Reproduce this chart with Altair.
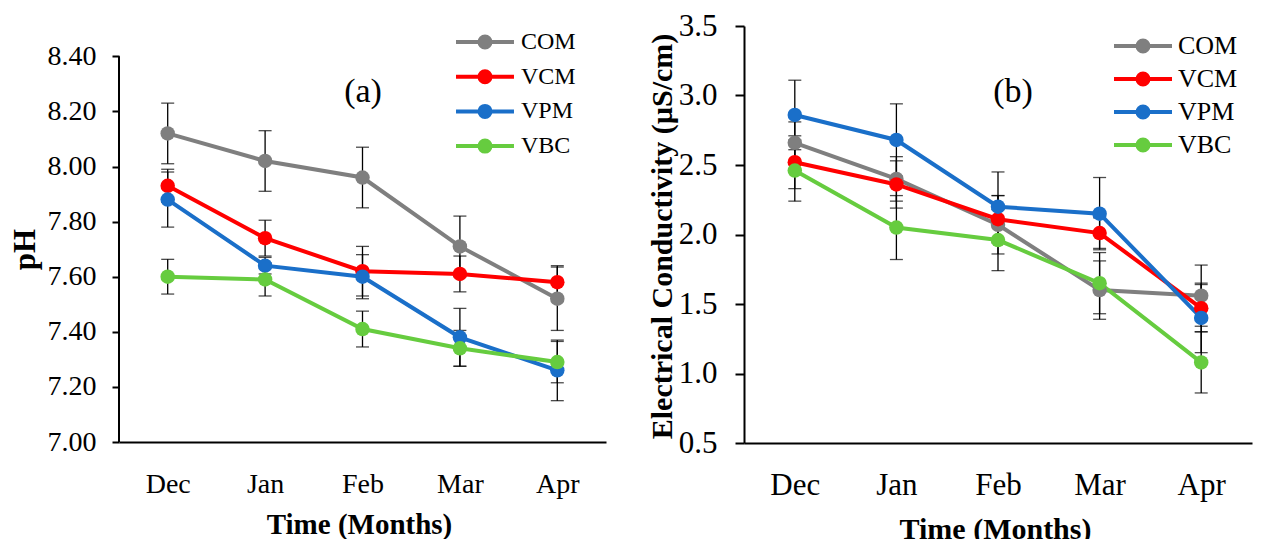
import altair as alt
import pandas as pd

months = ["Dec", "Jan", "Feb", "Mar", "Apr"]
series = ["COM", "VCM", "VPM", "VBC"]
colors = ["#7f7f7f", "#ff0000", "#1a6fc9", "#66cc3f"]

# panel (a) pH
ph_com = [8.12, 8.02, 7.96, 7.71, 7.52]
ph_vcm = [7.93, 7.74, 7.62, 7.61, 7.58]
ph_vpm = [7.88, 7.64, 7.60, 7.38, 7.26]
ph_vbc = [7.60, 7.59, 7.41, 7.34, 7.29]
ph_com_err = [0.11, 0.11, 0.11, 0.11, 0.115]
ph_vcm_err = [0.06, 0.065, 0.09, 0.065, 0.06]
ph_vpm_err = [0.10, 0.03, 0.08, 0.105, 0.11]
ph_vbc_err = [0.063, 0.06, 0.065, 0.065, 0.075]
ph_ticks = [7.00, 7.20, 7.40, 7.60, 7.80, 8.00, 8.20, 8.40]

# panel (b) electrical conductivity
ec_com = [2.66, 2.40, 2.07, 1.60, 1.56]
ec_vcm = [2.52, 2.36, 2.11, 2.01, 1.47]
ec_vpm = [2.86, 2.68, 2.20, 2.15, 1.40]
ec_vbc = [2.46, 2.05, 1.96, 1.65, 1.08]
ec_com_err = [0.15, 0.16, 0.21, 0.21, 0.22]
ec_vcm_err = [0.19, 0.17, 0.17, 0.11, 0.17]
ec_vpm_err = [0.25, 0.26, 0.25, 0.26, 0.25]
ec_vbc_err = [0.22, 0.23, 0.22, 0.22, 0.22]
ec_ticks = [0.5, 1.0, 1.5, 2.0, 2.5, 3.0, 3.5]

panel_tags = ["(a)", "(b)"]
x_title = "Time (Months)"
ph_title = "pH"
ec_title = "Electrical Conductivity (\u00b5S/cm)"

FONT = "Liberation Serif"

# legend symbol: a line with a filled circle in the middle
SYMBOL = ("M-2.07,0H2.07"
          "M-0.393,0A0.393,0.393,0,1,0,0.393,0A0.393,0.393,0,1,0,-0.393,0Z"
          "M-0.107,0A0.107,0.107,0,1,0,0.107,0A0.107,0.107,0,1,0,-0.107,0Z")


def frame(vals, errs):
    rows = []
    for s, v, e in zip(series, vals, errs):
        for m, vv, ee in zip(months, v, e):
            rows.append({"month": m, "series": s, "value": vv, "lo": vv - ee, "hi": vv + ee})
    return pd.DataFrame(rows)


ph_df = frame([ph_com, ph_vcm, ph_vpm, ph_vbc], [ph_com_err, ph_vcm_err, ph_vpm_err, ph_vbc_err])
ec_df = frame([ec_com, ec_vcm, ec_vpm, ec_vbc], [ec_com_err, ec_vcm_err, ec_vpm_err, ec_vbc_err])


def panel(df, ticks, ydomain, yfmt, ytitle, tag, w, h, lab_fs, tick_size, lab_pad,
          ytitle_fs, xtitle_fs, ytitle_x, ytitle_y, xtitle_x, xtitle_y, leg_x, leg_y, leg_fs,
          leg_off, leg_rowpad, tag_x, tag_y, draw_domain_rule):
    xsc = alt.Scale(type="point", padding=0.5, domain=months)
    ysc = alt.Scale(domain=ydomain, nice=False, zero=False)
    xaxis = alt.Axis(title=x_title, labelAngle=0, ticks=False, tickSize=0,
                     domainColor="black", domainWidth=2,
                     labelFont=FONT, labelFontSize=lab_fs, labelColor="black",
                     labelPadding=42, labelBaseline="middle",
                     titleFont=FONT, titleFontSize=xtitle_fs, titleFontWeight="bold",
                     titleColor="black", titleX=xtitle_x, titleY=xtitle_y,
                     titleAlign="center", titleBaseline="middle")
    yaxis = alt.Axis(values=ticks, format=yfmt, domain=not draw_domain_rule,
                     domainColor="black", domainWidth=2,
                     tickSize=tick_size, tickWidth=2, tickColor="black",
                     labelFont=FONT, labelFontSize=lab_fs, labelColor="black",
                     labelPadding=lab_pad, grid=False,
                     title=ytitle, titleFont=FONT, titleFontSize=ytitle_fs,
                     titleFontWeight="bold", titleColor="black",
                     titleX=ytitle_x, titleY=ytitle_y, titleAngle=270,
                     titleAlign="center", titleBaseline="middle")
    legend = alt.Legend(orient="none", legendX=leg_x, legendY=leg_y, title=None,
                        direction="vertical", symbolType=SYMBOL, symbolSize=784,
                        symbolStrokeWidth=4, symbolOpacity=1,
                        labelFont=FONT, labelFontSize=leg_fs, labelColor="black",
                        labelOffset=leg_off, rowPadding=leg_rowpad, padding=0)
    color = alt.Color("series:N", scale=alt.Scale(domain=series, range=colors), legend=legend)

    base = alt.Chart(df)
    layers = []
    if draw_domain_rule:
        dom = pd.DataFrame({"lo": [ticks[0]], "hi": [ticks[-1]]})
        layers.append(alt.Chart(dom).mark_rule(color="black", strokeWidth=2).encode(
            x=alt.value(0), y=alt.Y("lo:Q", scale=ysc, axis=yaxis), y2="hi:Q"))
    bars = base.mark_rule(color="black", strokeWidth=1.3).encode(
        x=alt.X("month:N", scale=xsc, axis=xaxis, sort=months),
        y=alt.Y("lo:Q", scale=ysc, axis=yaxis), y2="hi:Q", detail="series:N")
    cap_lo = base.mark_tick(color="black", size=13, thickness=1.3).encode(
        x=alt.X("month:N", scale=xsc, sort=months), y=alt.Y("lo:Q", scale=ysc), detail="series:N")
    cap_hi = base.mark_tick(color="black", size=13, thickness=1.3).encode(
        x=alt.X("month:N", scale=xsc, sort=months), y=alt.Y("hi:Q", scale=ysc), detail="series:N")
    lines = base.mark_line(strokeWidth=4).encode(
        x=alt.X("month:N", scale=xsc, sort=months), y=alt.Y("value:Q", scale=ysc),
        color=color)
    pts = base.mark_point(filled=True, size=210, opacity=1).encode(
        x=alt.X("month:N", scale=xsc, sort=months), y=alt.Y("value:Q", scale=ysc),
        color=color)
    label = alt.Chart(pd.DataFrame({"tag": [tag]})).mark_text(
        font=FONT, fontSize=34, color="black").encode(
        x=alt.value(tag_x), y=alt.value(tag_y), text="tag:N")
    layers += [bars, cap_lo, cap_hi, lines, pts, label]
    return alt.layer(*layers).properties(
        width=w, height=h, view=alt.ViewBackground(stroke="transparent", strokeWidth=0))


left = panel(ph_df, ph_ticks, [7.0, 7.0 + 416 / 275.5], ".2f", ph_title, panel_tags[0],
             487, 416, 28, 7, 16, 31, 29, -94, 223, 240, 82,
             350, 0, 24, 20, 4.7, 244, 66, True)
right = panel(ec_df, ec_ticks, [0.5, 3.5], ".1f", ec_title, panel_tags[1],
              508, 417, 31, 9, 18, 30, 30, -82, 210, 251, 86,
              383, 4, 26, 19, 3, 269, 66, False)

chart = alt.hconcat(left, right, spacing=40).resolve_scale(
    color="independent", x="independent", y="independent"
).resolve_legend(color="independent").properties(
    padding={"left": 9, "top": 10, "right": 5, "bottom": 5}
).configure_view(stroke="transparent", strokeWidth=0).configure(font=FONT, background="white")

chart.save("out.html", embed_options={"renderer": "svg", "actions": False})
